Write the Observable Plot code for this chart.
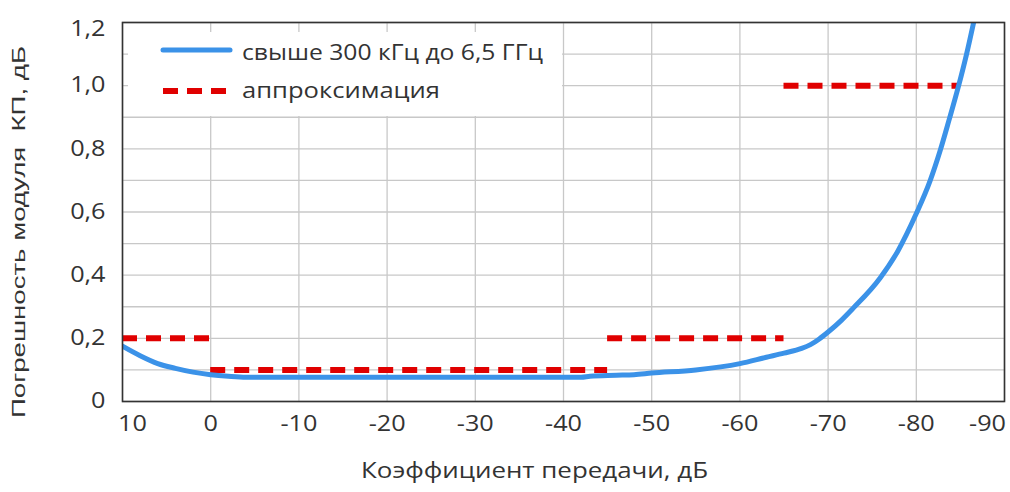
<!DOCTYPE html>
<html><head><meta charset="utf-8">
<script src="https://cdn.jsdelivr.net/npm/d3@7"></script>
<script src="https://cdn.jsdelivr.net/npm/@observablehq/plot@0.6"></script>
<style>
body{margin:0;background:#fff;font-family:"Open Sans",sans-serif;}
#wrap{position:relative;width:1010px;height:492px;}
#legend{position:absolute;left:128px;top:32px;width:434px;height:84px;background:#fff;}
#legend text{font-family:"Open Sans",sans-serif;font-size:21px;fill:#333;}
</style></head>
<body><div id="wrap"><div id="legend">
<svg width="434" height="84">
<line x1="35" x2="102" y1="18" y2="18" stroke="#3b92e8" stroke-width="5" stroke-linecap="round"/>
<text x="114" y="28" textLength="301" lengthAdjust="spacingAndGlyphs">свыше 300 кГц до 6,5 ГГц</text>
<line x1="35" x2="102" y1="59" y2="59" stroke="#e00000" stroke-width="6" stroke-dasharray="15,9"/>
<text x="114" y="66" textLength="198" lengthAdjust="spacingAndGlyphs">аппроксимация</text>
</svg>
</div></div>
<script>
const xTicks = [10, 0, -10, -20, -30, -40, -50, -60, -70, -80, -90];
const yTicks = [0, 0.2, 0.4, 0.6, 0.8, 1.0, 1.2];
const yGrid = [0, 0.1, 0.2, 0.3, 0.4, 0.5, 0.6, 0.7, 0.8, 0.9, 1.0, 1.1, 1.2];

const gainDb = [10, 8, 6, 4, 2, 0, -2, -4, -10, -20, -30, -40, -42, -43, -46, -48, -50, -55, -60, -63, -65, -67, -68, -69, -70, -71.5, -72.8, -75.9, -77.9, -80, -81.55, -82.7, -83.7, -84.8, -85.7, -86.5];
const errorDb = [0.175, 0.145, 0.12, 0.105, 0.093, 0.085, 0.08, 0.077, 0.077, 0.077, 0.077, 0.077, 0.077, 0.08, 0.083, 0.085, 0.09, 0.1, 0.12, 0.14, 0.153, 0.168, 0.18, 0.198, 0.22, 0.257, 0.294, 0.391, 0.476, 0.595, 0.698, 0.794, 0.89, 1.0, 1.1, 1.2];

const approxFrom = [10, 0, -45, -65];
const approxTo = [0, -45, -65, -85];
const approxVal = [0.2, 0.1, 0.2, 1.0];

const xLabel = "Коэффициент передачи, дБ";
const yLabel = "Погрешность модуля  КП, дБ";

const curve = gainDb.map((g, i) => ({g, e: errorDb[i]}));
const approx = approxFrom.map((a, i) => ({a, b: approxTo[i], v: approxVal[i]}));

const fmtY = d => d === 0 ? "0" : d.toFixed(1).replace(".", ",");
const fmtX = d => String(d);
const tickStyle = {tickSize: 0, label: null, fontSize: 21};

const chart = Plot.plot({
  width: 1010, height: 492,
  marginTop: 22, marginBottom: 91, marginLeft: 122, marginRight: 6,
  style: {fontFamily: "Open Sans", fontSize: "21px", color: "#333", background: "#fff"},
  x: {domain: [10, -90]},
  y: {domain: [0, 1.2]},
  marks: [
    Plot.gridX(xTicks, {stroke: "#c8c8c8", strokeOpacity: 1, strokeWidth: 1.3}),
    Plot.gridY(yGrid, {stroke: "#c8c8c8", strokeOpacity: 1, strokeWidth: 1.3}),
    Plot.axisX(xTicks.slice(1, -1), {...tickStyle, tickPadding: 15, tickFormat: fmtX}),
    Plot.axisX(xTicks.slice(0, 1), {...tickStyle, tickPadding: 15, dx: 10, tickFormat: fmtX}),
    Plot.axisX(xTicks.slice(-1), {...tickStyle, tickPadding: 15, dx: -17, tickFormat: fmtX}),
    Plot.axisY(yTicks.slice(0, -1), {...tickStyle, tickPadding: 17, tickFormat: fmtY}),
    Plot.axisY(yTicks.slice(-1), {...tickStyle, tickPadding: 17, dy: 7, tickFormat: fmtY}),
    Plot.text([xLabel], {frameAnchor: "bottom", text: d => d, dx: -29, dy: 76, fontSize: 21, fill: "#333"}),
    Plot.text([yLabel], {frameAnchor: "left", text: d => d, rotate: -90, textAnchor: "middle", dx: -103, dy: 20, fontSize: 18, fontFamily: "Liberation Sans", fill: "#333"}),
    Plot.ruleY(approx, {x1: "a", x2: "b", y: "v", stroke: "#e00000", strokeWidth: 6, strokeDasharray: "15,9"}),
    Plot.line(curve, {x: "g", y: "e", stroke: "#3b92e8", strokeWidth: 5, curve: "monotone-x", clip: true}),
    Plot.frame({stroke: "#333", strokeWidth: 1.6})
  ]
});
const wrap = document.getElementById("wrap");
wrap.insertBefore(chart, wrap.firstChild);

// widen glyphs horizontally to match the reference's stretched text
const stretchTo = {[xLabel]: 347, [yLabel]: 372};
d3.select(chart).selectAll("text").each(function() {
  const t = this.textContent;
  const L = this.getComputedTextLength();
  const target = stretchTo[t] || L * 1.2;
  this.setAttribute("textLength", target);
  this.setAttribute("lengthAdjust", "spacingAndGlyphs");
});
</script></body></html>
